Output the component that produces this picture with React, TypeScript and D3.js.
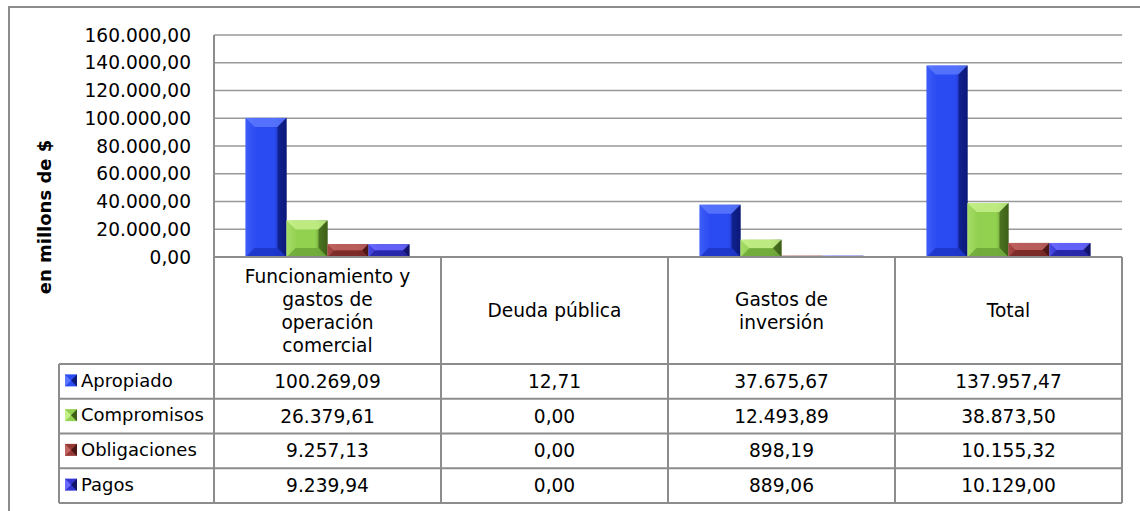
import * as d3 from "d3";
import React from "react";

const categories = ["Funcionamiento y gastos de operación comercial", "Deuda pública", "Gastos de inversión", "Total"];
const categoryLines = [
  ["Funcionamiento y", "gastos de", "operación", "comercial"],
  ["Deuda pública"],
  ["Gastos de", "inversión"],
  ["Total"],
];
const seriesNames = ["Apropiado", "Compromisos", "Obligaciones", "Pagos"];
const apropiado = [100269.09, 12.71, 37675.67, 137957.47];
const compromisos = [26379.61, 0, 12493.89, 38873.5];
const obligaciones = [9257.13, 0, 898.19, 10155.32];
const pagos = [9239.94, 0, 889.06, 10129.0];
const yTicks = [0, 20000, 40000, 60000, 80000, 100000, 120000, 140000, 160000];

const seriesValues = [apropiado, compromisos, obligaciones, pagos];
const palette = [
  { base: "#2b4bf2", light: "#5a78ff", dark: "#0c1a7a", mid: "#1d35c8" },
  { base: "#92d050", light: "#c4f08a", dark: "#3d6018", mid: "#6fa83a" },
  { base: "#953735", light: "#c06462", dark: "#4a1615", mid: "#7a2a28" },
  { base: "#3434d0", light: "#6a6aff", dark: "#121266", mid: "#2626a6" },
];

const locale = d3.formatLocale({ decimal: ",", thousands: ".", grouping: [3], currency: ["$", ""] });
const fmt = locale.format(",.2f");

const W = 1140;
const H = 511;
const plotLeft = 214;
const plotRight = 1122;
const plotTop = 35;
const plotBottom = 257;
const headerBottom = 364;
const rowH = 34.75;
const legendLeft = 59;
const FONT = "'DejaVu Sans', Verdana, sans-serif";
const FS = 18.6;
const lineColor = "#8c8c8c";

function Bar({ x, y, w, h, c, id }: { x: number; y: number; w: number; h: number; c: typeof palette[0]; id: string }) {
  if (h <= 0.3) return null;
  const b = Math.min(9, w / 4, h / 2);
  const x2 = x + w;
  const y2 = y + h;
  return (
    <g>
      <rect x={x} y={y} width={w} height={h} fill={`url(#${id})`} />
      <polygon points={`${x},${y} ${x2},${y} ${x2 - b},${y + b} ${x + b},${y + b}`} fill={c.light} opacity={0.85} />
      <polygon points={`${x},${y} ${x + b},${y + b} ${x + b},${y2 - b} ${x},${y2}`} fill={c.base} opacity={0.6} />
      <polygon points={`${x2},${y} ${x2},${y2} ${x2 - b},${y2 - b} ${x2 - b},${y + b}`} fill={c.dark} opacity={0.75} />
      <polygon points={`${x},${y2} ${x + b},${y2 - b} ${x2 - b},${y2 - b} ${x2},${y2}`} fill={c.mid} opacity={0.9} />
    </g>
  );
}

export default function App() {
  const y = d3.scaleLinear().domain([0, 160000]).range([plotBottom, plotTop]);
  const x0 = d3.scaleBand<number>().domain(d3.range(categories.length)).range([plotLeft, plotRight]);
  const x1 = d3.scaleBand<number>().domain(d3.range(seriesNames.length)).range([0, x0.bandwidth()]).paddingOuter(0.77);
  const rowTop = (i: number) => headerBottom + i * rowH;
  const tableBottom = rowTop(seriesNames.length);

  return (
    <svg width={W} height={H} style={{ position: "absolute", left: 0, top: 0, background: "#fff" }} fontFamily={FONT}>
      <defs>
        {palette.map((c, i) => (
          <linearGradient key={i} id={`g${i}`} x1="0" x2="1" y1="0" y2="0">
            <stop offset="0" stopColor={c.light} />
            <stop offset="0.25" stopColor={c.base} />
            <stop offset="0.7" stopColor={c.base} />
            <stop offset="1" stopColor={c.dark} />
          </linearGradient>
        ))}
      </defs>
      {/* outer frame */}
      <path d={`M9,${H} L9,7 L${W},7`} fill="none" stroke={lineColor} strokeWidth={2} />

      {/* grid */}
      {yTicks.map((t) => (
        <g key={t}>
          {t > 0 && <line x1={plotLeft} x2={plotRight} y1={y(t)} y2={y(t)} stroke="#999" strokeWidth={1.6} />}
          <text x={191} y={y(t)} dy="0.35em" textAnchor="end" fontSize={FS}>
            {fmt(t)}
          </text>
        </g>
      ))}

      {/* bars */}
      {categories.map((cat, ci) =>
        seriesValues.map((vals, si) => {
          const bx = (x0(ci) ?? 0) + (x1(si) ?? 0);
          const by = y(vals[ci]);
          return <Bar key={`${ci}-${si}`} x={bx} y={by} w={x1.bandwidth()} h={plotBottom - by} c={palette[si]} id={`g${si}`} />;
        })
      )}

      {/* axis line */}
      <line x1={plotLeft} x2={plotLeft} y1={plotTop} y2={tableBottom} stroke={lineColor} strokeWidth={2} />

      {/* table */}
      <line x1={plotLeft} x2={plotRight} y1={plotBottom} y2={plotBottom} stroke={lineColor} strokeWidth={2} />
      {categories.map((cat, ci) => (
        <line key={ci} x1={(x0(ci) ?? 0) + x0.bandwidth()} x2={(x0(ci) ?? 0) + x0.bandwidth()} y1={plotBottom} y2={tableBottom} stroke={lineColor} strokeWidth={2} />
      ))}
      <line x1={legendLeft} x2={legendLeft} y1={headerBottom} y2={tableBottom} stroke={lineColor} strokeWidth={2} />
      {d3.range(seriesNames.length + 1).map((i) => (
        <line key={i} x1={legendLeft} x2={plotRight} y1={rowTop(i)} y2={rowTop(i)} stroke={lineColor} strokeWidth={2} />
      ))}

      {categoryLines.map((lines, ci) => {
        const cx = (x0(ci) ?? 0) + x0.bandwidth() / 2;
        const cy = (plotBottom + headerBottom) / 2;
        const lh = 23;
        return (
          <text key={ci} x={cx} textAnchor="middle" fontSize={FS}>
            {lines.map((l, li) => (
              <tspan key={li} x={cx} y={cy + (li - (lines.length - 1) / 2) * lh} dy="0.35em">
                {l}
              </tspan>
            ))}
          </text>
        );
      })}

      {seriesNames.map((s, si) => {
        const ry = rowTop(si) + rowH / 2;
        const c = palette[si];
        return (
          <g key={s}>
            <rect x={65} y={ry - 7} width={12} height={12} fill={c.base} />
            <polygon points={`${65},${ry - 7} ${71},${ry - 1} ${65},${ry + 5}`} fill={c.light} />
            <polygon points={`${77},${ry - 7} ${71},${ry - 1} ${77},${ry + 5}`} fill={c.dark} />
            <text x={81} y={ry - 1} dy="0.35em" fontSize={FS - 0.6}>
              {s}
            </text>
            {categories.map((cat, ci) => (
              <text key={ci} x={(x0(ci) ?? 0) + x0.bandwidth() / 2} y={ry} dy="0.35em" textAnchor="middle" fontSize={FS}>
                {fmt(seriesValues[si][ci])}
              </text>
            ))}
          </g>
        );
      })}

      {/* y axis title */}
      <text transform={`translate(51,217) rotate(-90)`} textAnchor="middle" fontSize={18} fontWeight="bold">
        en millons de $
      </text>
    </svg>
  );
}
